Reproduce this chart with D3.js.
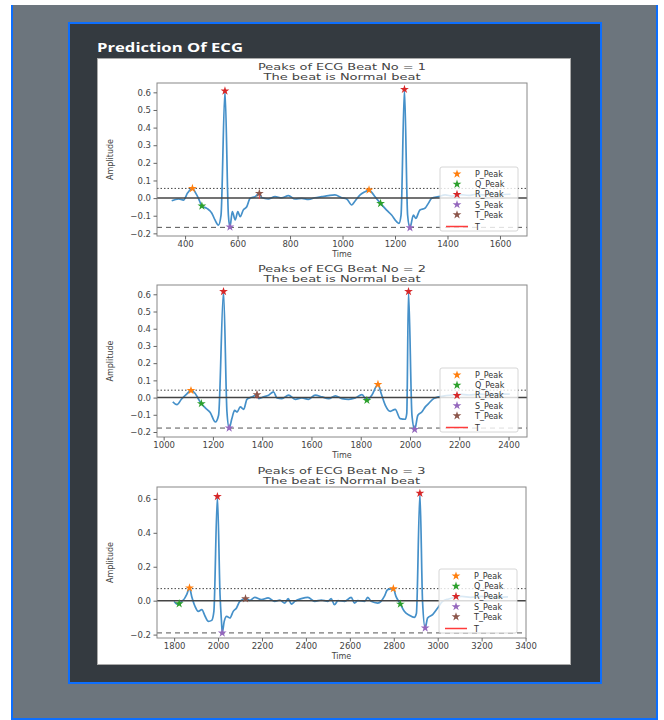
<!DOCTYPE html>
<html><head><meta charset="utf-8">
<script src="https://cdn.jsdelivr.net/npm/d3@7"></script>
<style>html,body{margin:0;padding:0;background:#fff;}svg{display:block;}</style>
</head><body>
<svg id="chart" width="664" height="720"></svg>
<script>
// ---------- DATA ----------
const pageTitle = "Prediction Of ECG";
const beatNumbers = [1, 2, 3];
const beatLabels = ["Normal beat", "Normal beat", "Normal beat"];
const legendLabels = ["P_Peak", "Q_Peak", "R_Peak", "S_Peak", "T_Peak", "T"];
const peakColors = ["#ff7f0e", "#2ca02c", "#d62728", "#9467bd", "#8c564b"];

const beat1Time = [349,375,394,410,428,440,451,464,483,502,514,527,537,552,565,571,580,591,601,610,622,635,648,667,683,692,717,743,768,794,819,845,870,895,921,946,971,997,1016,1035,1048,1067,1086,1101,1113,1124,1145,1168,1187,1206,1215,1223,1236,1248,1257,1270,1279,1295,1314,1327,1340,1365,1391,1420,1450,1480,1510,1540,1570,1600,1640];
const beat1Amp  = [-0.015,-0.005,-0.011,0.030,0.055,0.030,-0.001,-0.045,-0.058,-0.086,-0.124,-0.153,-0.096,0.608,-0.096,-0.164,-0.077,-0.124,-0.077,-0.105,-0.067,-0.049,-0.001,0.008,0.027,0.003,-0.005,0.008,0.002,0.014,-0.005,-0.001,-0.007,0.002,0.008,0.014,0.018,0.002,-0.005,-0.039,-0.016,0.018,0.036,0.046,0.030,0.008,-0.030,-0.068,-0.096,-0.134,-0.143,-0.096,0.617,-0.096,-0.168,-0.096,-0.115,-0.067,-0.058,-0.030,-0.001,0.008,0.018,0.012,0.020,0.015,0.022,0.018,0.025,0.020,0.022];
const beat2Time = [1037,1054,1072,1091,1111,1128,1142,1153,1169,1189,1210,1223,1243,1257,1266,1277,1288,1298,1311,1325,1338,1360,1379,1386,1406,1426,1446,1460,1480,1507,1534,1561,1588,1615,1643,1670,1697,1724,1751,1778,1805,1825,1845,1870,1883,1900,1920,1940,1960,1981,1987,1994,2008,2019,2032,2048,2062,2075,2096,2116,2140,2170,2200,2240,2280,2320,2360,2405];
const beat2Amp  = [-0.025,-0.041,-0.010,0.017,0.041,0.024,-0.010,-0.035,-0.060,-0.087,-0.142,-0.103,0.616,-0.084,-0.177,-0.122,-0.074,-0.084,-0.054,-0.068,-0.010,0.005,0.017,-0.006,0.004,0.014,0.033,-0.002,-0.006,0.014,-0.010,-0.002,-0.010,0.014,0.004,-0.006,0.010,-0.006,-0.010,-0.002,0.017,-0.016,0.014,0.076,0.024,-0.045,-0.080,-0.068,-0.122,-0.126,-0.090,0.616,-0.103,-0.185,-0.103,-0.084,-0.054,-0.035,-0.006,0.004,0.010,0.015,0.020,0.015,0.020,0.018,0.022,0.020];
const beat3Time = [1800,1812,1823,1835,1847,1857,1870,1880,1895,1910,1926,1941,1956,1971,1981,1997,2009,2016,2019,2028,2039,2054,2069,2084,2099,2125,2145,2167,2198,2228,2258,2281,2304,2319,2334,2349,2379,2409,2440,2470,2500,2515,2530,2546,2576,2606,2621,2636,2667,2682,2697,2727,2742,2757,2772,2798,2810,2830,2848,2871,2893,2903,2919,2931,2943,2954,2977,3000,3022,3050,3080,3110,3150,3200,3250,3320];
const beat3Amp  = [-0.004,-0.020,-0.018,-0.004,0.012,0.035,0.075,0.025,-0.033,-0.063,-0.053,-0.092,-0.122,-0.116,-0.063,0.614,0.035,-0.131,-0.190,-0.122,-0.092,-0.102,-0.063,-0.043,-0.004,0.012,0.002,0.020,0.006,0.016,-0.004,0.004,-0.014,0.012,-0.020,-0.004,0.012,0.020,-0.004,0.004,-0.004,0.012,-0.024,0.000,-0.004,0.020,-0.014,0.000,-0.004,0.020,-0.004,-0.014,-0.004,0.025,0.065,0.071,0.025,-0.020,-0.063,-0.086,-0.098,-0.075,0.633,-0.004,-0.161,-0.102,-0.082,-0.043,-0.004,0.010,0.020,0.025,0.020,0.025,0.020,0.022];

// peak markers per beat: type index (0=P,1=Q,2=R,3=S,4=T), time, amplitude
const beat1PeakType = [0,1,2,3,4,0,1,2,3];
const beat1PeakTime = [428,464,552,571,683,1101,1145,1236,1257];
const beat1PeakAmp  = [0.055,-0.045,0.608,-0.164,0.027,0.046,-0.030,0.617,-0.168];
const beat2PeakType = [0,1,2,3,4,1,0,2,3];
const beat2PeakTime = [1111,1153,1243,1266,1379,1825,1870,1994,2019];
const beat2PeakAmp  = [0.041,-0.035,0.616,-0.177,0.017,-0.016,0.076,0.616,-0.185];
const beat3PeakType = [1,0,2,3,4,0,1,2,3];
const beat3PeakTime = [1823,1870,1997,2019,2125,2798,2830,2919,2943];
const beat3PeakAmp  = [-0.018,0.075,0.614,-0.190,0.012,0.071,-0.020,0.633,-0.161];

// T interval marks (short red vertical lines) per beat
const beatTMarkTime = [683, 1379, null];
const upperThreshold = [0.055, 0.043, 0.071];
const lowerThreshold = [-0.166, -0.177, -0.190];

const xTicks1 = [400,600,800,1000,1200,1400,1600];
const xTicks2 = [1000,1200,1400,1600,1800,2000,2200,2400];
const xTicks3 = [1800,2000,2200,2400,2600,2800,3000,3200,3400];
const yTicks1 = [-0.2,-0.1,0.0,0.1,0.2,0.3,0.4,0.5,0.6];
const yTicks2 = [-0.2,-0.1,0.0,0.1,0.2,0.3,0.4,0.5,0.6];
const yTicks3 = [-0.2,0.0,0.2,0.4,0.6];

// ---------- LAYOUT ----------
const svg = d3.select("#chart");
svg.append("rect").attr("x",11).attr("y",5).attr("width",647).attr("height",715).attr("fill","#6c757d");
svg.append("line").attr("x1",12).attr("x2",12).attr("y1",5).attr("y2",720).attr("stroke","#0d6efd").attr("stroke-width",2);
svg.append("line").attr("x1",657).attr("x2",657).attr("y1",5).attr("y2",720).attr("stroke","#0d6efd").attr("stroke-width",2);
svg.append("line").attr("x1",11).attr("x2",658).attr("y1",719).attr("y2",719).attr("stroke","#0d6efd").attr("stroke-width",2);
svg.append("rect").attr("x",69).attr("y",23).attr("width",532).attr("height",660).attr("fill","#343a40").attr("stroke","#0d6efd").attr("stroke-width",2);
svg.append("text").attr("x",97).attr("y",52).attr("fill","#fff").attr("font-family","'Open Sans', sans-serif")
  .attr("font-weight","bold").attr("font-size",12.5).attr("textLength",146).attr("lengthAdjust","spacingAndGlyphs").text(pageTitle);
svg.append("rect").attr("x",97.5).attr("y",58.5).attr("width",473).attr("height",606).attr("fill","#fff").attr("stroke","#aaa").attr("stroke-width",1);

const panels = [
  {t: beat1Time, a: beat1Amp, pt: beat1PeakType, px: beat1PeakTime, pa: beat1PeakAmp, xt: xTicks1, yt: yTicks1,
   box: [157,527,83,236], xd: [293,1703], yd: [-0.215,0.653]},
  {t: beat2Time, a: beat2Amp, pt: beat2PeakType, px: beat2PeakTime, pa: beat2PeakAmp, xt: xTicks2, yt: yTicks2,
   box: [157,527,285,437], xd: [973,2475], yd: [-0.229,0.654]},
  {t: beat3Time, a: beat3Amp, pt: beat3PeakType, px: beat3PeakTime, pa: beat3PeakAmp, xt: xTicks3, yt: yTicks3,
   box: [157,526,487,638], xd: [1722,3402], yd: [-0.22,0.67]}
];
const font = "'DejaVu Sans', sans-serif";
const star = d3.symbol().type(d3.symbolStar).size(24);

panels.forEach((p, i) => {
  const [L, R, T, B] = p.box;
  const x = d3.scaleLinear().domain(p.xd).range([L, R]);
  const y = d3.scaleLinear().domain(p.yd).range([B, T]);
  const g = svg.append("g");
  const cx = (L + R) / 2;
  g.append("text").attr("x",cx).attr("y",T-13).attr("text-anchor","middle").attr("font-family",font).attr("font-size",9.5)
    .attr("fill","#444").attr("textLength",168).attr("lengthAdjust","spacingAndGlyphs").text(`Peaks of ECG Beat No = ${beatNumbers[i]}`);
  g.append("text").attr("x",cx).attr("y",T-3.5).attr("text-anchor","middle").attr("font-family",font).attr("font-size",9.5)
    .attr("fill","#444").attr("textLength",157).attr("lengthAdjust","spacingAndGlyphs").text(`The beat is ${beatLabels[i]}`);

  const clipId = "clip" + i;
  g.append("clipPath").attr("id", clipId).append("rect").attr("x",L).attr("y",T).attr("width",R-L).attr("height",B-T);
  const plot = g.append("g").attr("clip-path", `url(#${clipId})`);

  // threshold lines
  plot.append("line").attr("x1",L).attr("x2",R).attr("y1",y(upperThreshold[i])).attr("y2",y(upperThreshold[i]))
    .attr("stroke","#444").attr("stroke-width",1).attr("stroke-dasharray","1.5,2");
  plot.append("line").attr("x1",L).attr("x2",R).attr("y1",y(lowerThreshold[i])).attr("y2",y(lowerThreshold[i]))
    .attr("stroke","#555").attr("stroke-width",1).attr("stroke-dasharray","5,4");

  // signal
  const line = d3.line().x((d, k) => x(p.t[k])).y((d, k) => y(p.a[k])).curve(d3.curveMonotoneX);
  plot.append("path").datum(p.a).attr("d", line).attr("fill","none").attr("stroke","#4590c9").attr("stroke-width",1.7);

  // zero line
  plot.append("line").attr("x1",L).attr("x2",R).attr("y1",y(0)).attr("y2",y(0)).attr("stroke","#444").attr("stroke-width",1.5);

  // T mark
  if (beatTMarkTime[i] !== null) {
    const tx = x(beatTMarkTime[i]);
    plot.append("line").attr("x1",tx).attr("x2",tx).attr("y1",y(0.035)).attr("y2",y(-0.005)).attr("stroke","#e04040").attr("stroke-width",1);
  }

  // peaks
  plot.selectAll("path.pk").data(p.pt).enter().append("path").attr("class","pk")
    .attr("d", star).attr("transform", (d, k) => `translate(${x(p.px[k])},${y(p.pa[k])})`)
    .attr("fill", d => peakColors[d]);

  // spines
  g.append("rect").attr("x",L).attr("y",T).attr("width",R-L).attr("height",B-T).attr("fill","none").attr("stroke","#888").attr("stroke-width",1);

  // axes
  const xa = g.append("g").attr("transform",`translate(0,${B})`)
    .call(d3.axisBottom(x).tickValues(p.xt).tickSize(3.5).tickPadding(1.5).tickFormat(d3.format("d")));
  const ya = g.append("g").attr("transform",`translate(${L},0)`)
    .call(d3.axisLeft(y).tickValues(p.yt).tickSize(3.5).tickPadding(2.5).tickFormat(d3.format(".1f")));
  [xa, ya].forEach(a => {
    a.select(".domain").remove();
    a.selectAll(".tick line").attr("stroke","#666");
    a.selectAll(".tick text").attr("fill","#444").attr("font-family",font).attr("font-size",8.5);
  });
  g.append("text").attr("x",cx).attr("y",B+20.5).attr("text-anchor","middle").attr("font-family",font).attr("font-size",8).attr("fill","#444").text("Time");
  g.append("text").attr("transform",`translate(${L-44},${(T+B)/2}) rotate(-90)`).attr("text-anchor","middle").attr("font-family",font)
    .attr("font-size",8).attr("fill","#444").text("Amplitude");

  // legend
  const lx = R - 87, ly = B - 69;
  const lg = g.append("g");
  lg.append("rect").attr("x",lx).attr("y",ly).attr("width",78).attr("height",64).attr("rx",2)
    .attr("fill","#fff").attr("fill-opacity",0.8).attr("stroke","#ccc").attr("stroke-width",0.8);
  legendLabels.forEach((lab, k) => {
    const ry = ly + 7 + k * 10.2 + (k === 5 ? 1.5 : 0);
    if (k < 5) {
      lg.append("path").attr("d", star).attr("transform",`translate(${lx+17},${ry})`).attr("fill", peakColors[k]);
    } else {
      lg.append("line").attr("x1",lx+6).attr("x2",lx+28).attr("y1",ry).attr("y2",ry).attr("stroke","#ff3b3b").attr("stroke-width",1.5);
    }
    lg.append("text").attr("x",lx+35).attr("y",ry+3).attr("font-family",font).attr("font-size",8).attr("fill","#333").text(lab);
  });
});
</script>
</body></html>
